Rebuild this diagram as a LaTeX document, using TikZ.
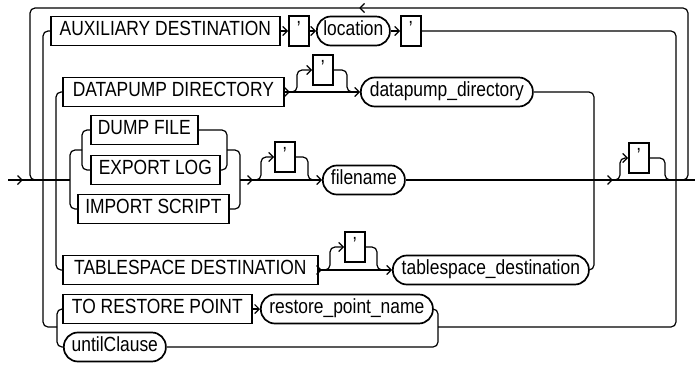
\documentclass[tikz,border=0pt]{standalone}
\usepackage{fontspec}
\setmainfont{Liberation Sans}[FakeStretch=0.85]
\usetikzlibrary{arrows.meta}
\tikzset{
  line/.style={line width=1.2pt, line join=round},
  rc/.style={line, rounded corners=5pt},
  arr/.style={line, -{Straight Barb[length=4.5pt,width=9pt]}},
  term/.style={draw, line width=1.7pt, fill=white, anchor=west, minimum height=29pt,
    inner xsep=0pt, inner ysep=0pt, text height=13pt, text depth=4pt,
    font=\fontsize{20.5}{24}\selectfont},
  nterm/.style={term, rounded corners=14pt},
  quote/.style={term, minimum width=20pt, minimum height=30pt},
  chev/.pic={\draw[line] (-4.5,-4.5) -- (0,0) -- (-4.5,4.5);},
  chevl/.pic={\draw[line] (4.5,-4.5) -- (0,0) -- (4.5,4.5);},
}
\begin{document}
\begin{tikzpicture}[x=1pt,y=-1pt]
\fill[white] (0,0) rectangle (695,364);
\useasboundingbox (0,0) rectangle (695,364);
% nodes
\node[term, minimum width=229pt] (aux) at (50,31) {AUXILIARY DESTINATION};
\node[quote] (q1) at (288,31) {'};
\node[nterm, minimum width=73pt] (loc) at (316,31) {location};
\node[quote] (q2) at (400,31) {'};
\node[term, minimum width=221pt] (dp) at (62,92) {DATAPUMP DIRECTORY};
\node[quote] (qd) at (312,70) {'};
\node[nterm, minimum width=172pt] (dpd) at (360,92) {datapump\_directory};
\node[term, minimum width=107pt] (df) at (90,130) {DUMP FILE};
\node[term, minimum width=129pt] (el) at (90,170) {EXPORT LOG};
\node[term, minimum width=151pt] (is) at (77,209) {IMPORT SCRIPT};
\node[quote] (qf) at (274,157) {'};
\node[nterm, minimum width=82pt] (fn) at (322,180) {filename};
\node[term, minimum width=255pt] (ts) at (62,270) {TABLESPACE DESTINATION};
\node[quote] (qt) at (344,247) {'};
\node[nterm, minimum width=196pt] (tsd) at (392,270) {tablespace\_destination};
\node[term, minimum width=189pt] (trp) at (62,309) {TO RESTORE POINT};
\node[nterm, minimum width=172pt] (rpn) at (260,309) {restore\_point\_name};
\node[nterm, minimum width=102pt] (uc) at (63,347) {untilClause};
\node[quote] (qz) at (628,158) {'};
% coordinates
\coordinate (start) at (8,180);
\coordinate (fL) at (70,180);
\coordinate (fR) at (240,180);
\coordinate (fin) at (695,180);
% main line
\draw[line] (start) -- (fL);
\pic at (22,180) {chev};
% loop
\draw[rc] (681,180) -| (688,8) -| (30,180) -- (37,180);
\pic at (360,8) {chevl};
% outer choice
\draw[rc] (aux.west) -| (43,327) -- (57,327);
\draw[rc] (q2.east) -| (676,327) -- (438,327);
% AUX row
\draw[arr] (aux.east) -- (q1.west);
\draw[arr] (q1.east) -- (loc.west);
\draw[arr] (loc.east) -- (q2.west);
% inner choice
\draw[rc] (dp.west) -| (56,270) -- (ts.west);
\draw[rc] (dpd.east) -| (594,270) -- (tsd.east);
% DATAPUMP row
\draw[arr] (dp.east) -- (dpd.west);
\pic at (289,92) {chev};
\draw[rc,arr] (289,92) -| (297,70) -- (qd.west);
\draw[rc] (qd.east) -| (347,92) -- (354,92);
% files
\draw[rc] (82,150) -| (70,209) -- (is.west);
\draw[rc] (df.west) -| (82,170) -- (el.west);
\draw[rc] (df.east) -| (227,170) -- (el.east);
\draw[rc] (227,150) -| (240,209) -- (is.east);
\draw[arr] (fR) -- (fn.west);
\pic at (252,180) {chev};
\draw[rc,arr] (253,180) -| (261,157) -- (qf.west);
\draw[rc] (qf.east) -| (308,180) -- (315,180);
\draw[line] (fn.east) -- (fin);
% final optional quote
\pic at (612,180) {chev};
\draw[rc,arr] (613,180) -| (620,158) -- (qz.west);
\draw[rc] (qz.east) -| (665,180) -- (672,180);
% tablespace row
\draw[arr] (ts.east) -- (tsd.west);
\pic at (321,270) {chev};
\draw[rc,arr] (322,270) -| (330,247) -- (qt.west);
\draw[rc] (qt.east) -| (377,270) -- (384,270);
% restore point
\draw[arr] (trp.east) -- (rpn.west);
\draw[rc] (trp.west) -| (57,347) -- (uc.west);
\draw[rc] (rpn.east) -| (438,347) -- (uc.east);
\end{tikzpicture}
\end{document}
